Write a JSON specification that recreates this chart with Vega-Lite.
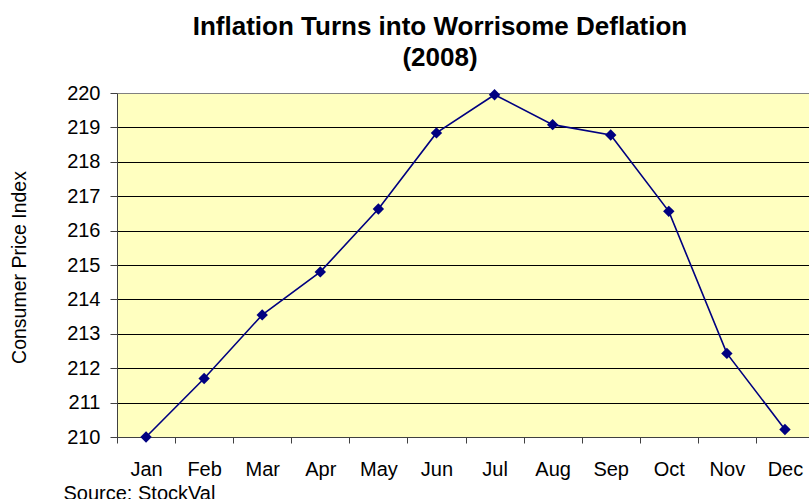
{
  "$schema": "https://vega.github.io/schema/vega-lite/v6.json",
  "width": 692,
  "height": 344,
  "autosize": {"type": "none"},
  "padding": {"left": 117, "top": 93, "right": 0, "bottom": 62},
  "background": "white",
  "title": {
    "text": ["Inflation Turns into Worrisome Deflation", "(2008)"],
    "fontSize": 26,
    "font": "Liberation Sans",
    "fontWeight": "bold",
    "color": "black",
    "lineHeight": 31,
    "anchor": "middle",
    "dx": -23,
    "offset": 12
  },
  "config": {
    "view": {"fill": "#FFFFC0", "stroke": null},
    "font": "Liberation Sans"
  },
  "data": {
    "values": [
      {"month": "Jan", "cpi": 210.0},
      {"month": "Feb", "cpi": 211.7},
      {"month": "Mar", "cpi": 213.55},
      {"month": "Apr", "cpi": 214.8},
      {"month": "May", "cpi": 216.63},
      {"month": "Jun", "cpi": 218.84},
      {"month": "Jul", "cpi": 219.95},
      {"month": "Aug", "cpi": 219.08},
      {"month": "Sep", "cpi": 218.78},
      {"month": "Oct", "cpi": 216.56},
      {"month": "Nov", "cpi": 212.43},
      {"month": "Dec", "cpi": 210.22}
    ]
  },
  "encoding": {
    "x": {
      "field": "month",
      "type": "ordinal",
      "sort": null,
      "scale": {"type": "band", "range": [0, 697], "paddingInner": 0, "paddingOuter": 0},
      "axis": {
        "title": "Source: StockVal",
        "titleX": -54,
        "titleY": 46,
        "titleAlign": "left",
        "titleBaseline": "top",
        "titleFontSize": 20,
        "titleFontWeight": "normal",
        "titleColor": "black",
        "labelFontSize": 20,
        "labelColor": "black",
        "labelAngle": 0,
        "labelPadding": 16,
        "tickSize": 6,
        "tickColor": "#404040",
        "tickBand": "extent",
        "domainColor": "#404040",
        "grid": false
      }
    },
    "y": {
      "field": "cpi",
      "type": "quantitative",
      "scale": {"domain": [210, 220], "nice": false, "zero": false},
      "axis": {
        "values": [210, 211, 212, 213, 214, 215, 216, 217, 218, 219, 220],
        "format": "d",
        "title": "Consumer Price Index",
        "titleX": -98,
        "titleY": 174,
        "titleAngle": 270,
        "titleAlign": "center",
        "titleBaseline": "middle",
        "titleFont": "Liberation Sans",
        "titleFontSize": 19.5,
        "titleFontWeight": "normal",
        "titleColor": "black",
        "labelFontSize": 20,
        "labelColor": "black",
        "labelPadding": 10,
        "tickSize": 7,
        "tickColor": "#404040",
        "domainColor": "#404040",
        "grid": true,
        "gridColor": {"condition": {"test": "datum.value === 220", "value": "#808080"}, "value": "black"},
        "gridOpacity": 1
      }
    }
  },
  "layer": [
    {"mark": {"type": "line", "color": "#000080", "strokeWidth": 1.6}},
    {"mark": {"type": "point", "shape": "diamond", "filled": true, "size": 130, "color": "#000080", "opacity": 1}}
  ]
}
